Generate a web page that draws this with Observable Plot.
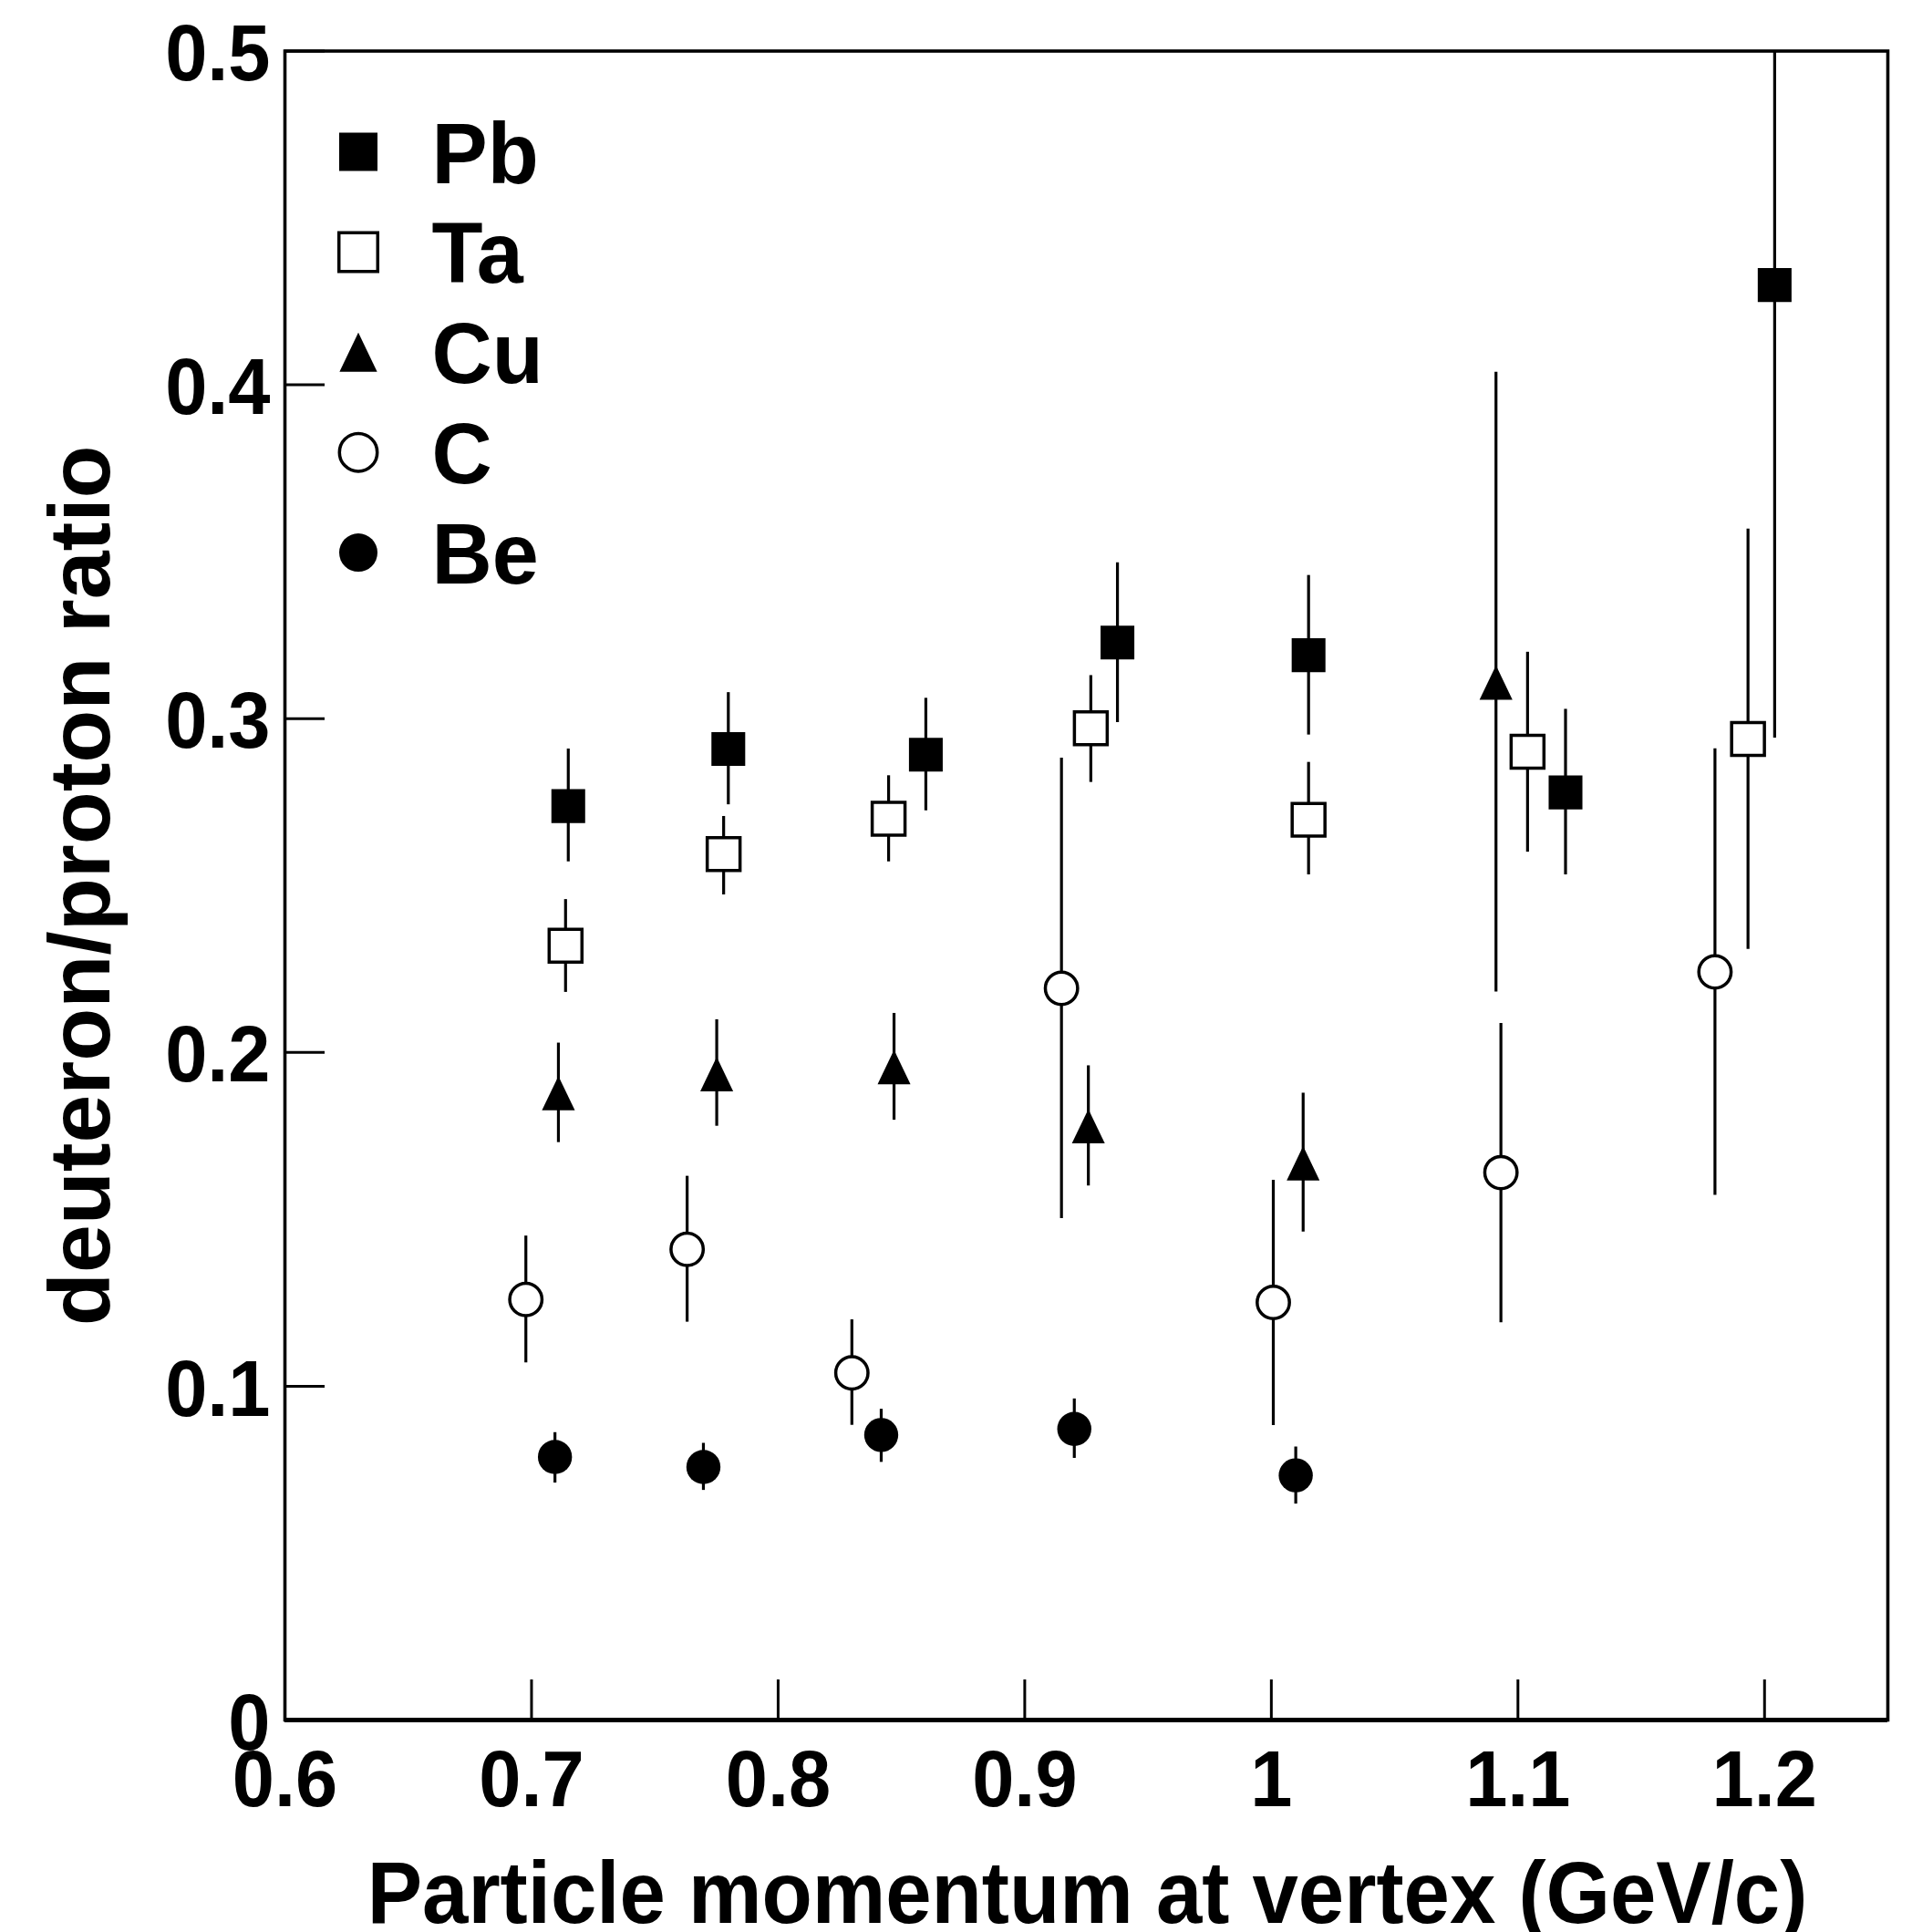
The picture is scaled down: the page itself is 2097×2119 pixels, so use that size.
<!DOCTYPE html>
<html>
<head>
<meta charset="utf-8">
<script src="https://cdn.jsdelivr.net/npm/d3@7"></script>
<script src="https://cdn.jsdelivr.net/npm/@observablehq/plot@0.6"></script>
<style>
  html, body { margin: 0; padding: 0; background: #fff; }
  svg { display: block; }
</style>
</head>
<body>
<div id="chart"></div>
<script>
// ---------- Data ----------
const seriesNames = ["Pb", "Ta", "Cu", "C", "Be"];

const pbX  = [0.7149, 0.7798, 0.8599, 0.9376, 1.0151, 1.1193, 1.2041];
const pbY  = [0.2738, 0.2909, 0.2892, 0.3228, 0.3190, 0.2779, 0.4299];
const pbLo = [0.2571, 0.2742, 0.2724, 0.2988, 0.2951, 0.2532, 0.2942];
const pbHi = [0.2909, 0.3078, 0.3061, 0.3467, 0.3429, 0.3028, 0.5660];

const taX  = [0.7138, 0.7779, 0.8448, 0.9268, 1.0151, 1.1039, 1.1933];
const taY  = [0.2320, 0.2594, 0.2700, 0.2971, 0.2697, 0.2901, 0.2939];
const taLo = [0.2180, 0.2472, 0.2571, 0.2809, 0.2532, 0.2600, 0.2309];
const taHi = [0.2458, 0.2707, 0.2829, 0.3129, 0.2869, 0.3199, 0.3568];

const cuX  = [0.7109, 0.7751, 0.8470, 0.9258, 1.0129, 1.0911];
const cuY  = [0.1878, 0.1935, 0.1956, 0.1779, 0.1668, 0.3108];
const cuLo = [0.1730, 0.1779, 0.1797, 0.1600, 0.1462, 0.2181];
const cuHi = [0.2028, 0.2098, 0.2117, 0.1960, 0.1878, 0.4038];

const cX   = [0.6977, 0.7631, 0.8299, 0.9149, 1.0008, 1.0931, 1.1799];
const cY   = [0.1260, 0.1410, 0.1040, 0.2192, 0.1251, 0.1640, 0.2241];
const cLo  = [0.1070, 0.1192, 0.0883, 0.1502, 0.0882, 0.1190, 0.1572];
const cHi  = [0.1450, 0.1629, 0.1199, 0.2882, 0.1617, 0.2087, 0.2910];

const beX  = [0.7095, 0.7697, 0.8418, 0.9201, 1.0099];
const beY  = [0.0788, 0.0758, 0.0854, 0.0872, 0.0733];
const beLo = [0.0710, 0.0688, 0.0772, 0.0784, 0.0647];
const beHi = [0.0861, 0.0829, 0.0931, 0.0962, 0.0818];

const xTicks      = [0.6, 0.7, 0.8, 0.9, 1.0, 1.1, 1.2];
const xTickLabels = ["0.6", "0.7", "0.8", "0.9", "1", "1.1", "1.2"];
const yTicks      = [0, 0.1, 0.2, 0.3, 0.4, 0.5];
const yTickLabels = ["0", "0.1", "0.2", "0.3", "0.4", "0.5"];

const xTitle = "Particle momentum at vertex (GeV/c)";
const yTitle = "deuteron/proton ratio";

// ---------- Layout ----------
const W = 2097, H = 2119;
const mL = 312, mR = 27, mT = 55.5, mB = 233;
const frameW = W - mL - mR, frameH = H - mT - mB;

// Triangle (up) symbol, slightly taller than equilateral
const triUp = {
  draw(ctx, size) {
    const r = Math.sqrt(size / Math.PI);
    ctx.moveTo(0, -r);
    ctx.lineTo(0.96 * r, r);
    ctx.lineTo(-0.96 * r, r);
    ctx.closePath();
  }
};

function rows(xs, ys, lo, hi) {
  return xs.map((x, i) => ({x, y: ys[i], lo: lo[i], hi: hi[i]}));
}

const series = [
  {name: "Pb", data: rows(pbX, pbY, pbLo, pbHi), symbol: "square", fill: "black", stroke: "none",  r: 20.9, lr: 23.7},
  {name: "Ta", data: rows(taX, taY, taLo, taHi), symbol: "square", fill: "white", stroke: "black", r: 20.3, lr: 24.0},
  {name: "Cu", data: rows(cuX, cuY, cuLo, cuHi), symbol: triUp,    fill: "black", stroke: "none",  r: 18.8, lr: 21.5},
  {name: "C",  data: rows(cX,  cY,  cLo,  cHi),  symbol: "circle", fill: "white", stroke: "black", r: 17.7, lr: 20.7},
  {name: "Be", data: rows(beX, beY, beLo, beHi), symbol: "circle", fill: "black", stroke: "none",  r: 18.7, lr: 21.0}
];

const marks = [];

// error bars
for (const s of series) {
  marks.push(Plot.ruleX(s.data, {x: "x", y1: "lo", y2: "hi", stroke: "black", strokeWidth: 3.2, clip: true}));
}
// markers
for (const s of series) {
  marks.push(Plot.dot(s.data, {x: "x", y: "y", symbol: s.symbol, r: s.r, fill: s.fill, stroke: s.stroke, strokeWidth: 3.5}));
}

// frame and ticks (inward)
marks.push(Plot.frame({stroke: "black", strokeWidth: 3.6}));
marks.push(Plot.ruleY([0], {stroke: "black", strokeWidth: 5}));
marks.push(Plot.ruleX(xTicks, {x: d => d, insetTop: frameH - 44, stroke: "black", strokeWidth: 3}));
marks.push(Plot.ruleY(yTicks, {y: d => d, insetRight: frameW - 44, stroke: "black", strokeWidth: 3}));

// tick labels
marks.push(Plot.text(xTicks, {
  x: d => d, frameAnchor: "bottom", dy: 94, lineAnchor: "bottom",
  text: (d, i) => xTickLabels[i], fontSize: 88, textAnchor: "middle"
}));
marks.push(Plot.text(yTicks, {
  y: d => d, frameAnchor: "left", dx: -16, dy: 4, lineAnchor: "middle", textAnchor: "end",
  text: (d, i) => yTickLabels[i], fontSize: 88
}));

// axis titles
marks.push(Plot.text([xTitle], {
  frameAnchor: "bottom", dx: 1192 - (mL + frameW / 2), dy: 222, lineAnchor: "bottom",
  textAnchor: "middle", text: d => d, fontSize: 96
}));
marks.push(Plot.text([yTitle], {
  frameAnchor: "left", dx: 119 - mL, rotate: -90, lineAnchor: "bottom",
  textAnchor: "middle", text: d => d, fontSize: 95
}));

// legend
series.forEach((s, i) => {
  const cy = 166 - mT + i * 109.9;
  marks.push(Plot.dot([s.name], {
    frameAnchor: "top-left", dx: 392.5 - mL, dy: cy,
    symbol: s.symbol, r: s.lr, fill: s.fill, stroke: s.stroke, strokeWidth: 3.5
  }));
  marks.push(Plot.text([s.name], {
    frameAnchor: "top-left", dx: 473 - mL, dy: cy + 3.6, lineAnchor: "middle",
    textAnchor: "start", text: d => d, fontSize: 95
  }));
});

const chart = Plot.plot({
  width: W,
  height: H,
  marginLeft: mL,
  marginRight: mR,
  marginTop: mT,
  marginBottom: mB,
  x: {domain: [0.6, 1.25], axis: null},
  y: {domain: [0, 0.5], axis: null},
  style: {
    fontFamily: "'Liberation Sans', Arial, Helvetica, sans-serif",
    fontWeight: "bold",
    background: "white",
    color: "black",
    overflow: "visible"
  },
  marks
});

// Horizontal condensing of text (about its anchor) to mimic the reference typeface
const tickSet = new Set([...xTickLabels, ...yTickLabels]);
const legendSet = new Set(seriesNames);
chart.querySelectorAll("text").forEach(t => {
  const s = t.textContent;
  let sx = 1;
  if (s === xTitle) sx = 0.943;
  else if (tickSet.has(s)) sx = 0.943;
  else if (legendSet.has(s)) sx = 0.965;
  if (sx !== 1) {
    const tr = t.getAttribute("transform") || "";
    t.setAttribute("transform", `${tr} scale(${sx},1)`);
  }
});

document.getElementById("chart").appendChild(chart);
</script>
</body>
</html>
